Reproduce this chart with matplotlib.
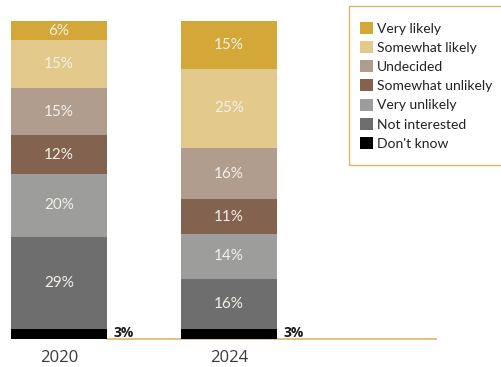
import matplotlib.pyplot as plt
from matplotlib.patches import Patch, Rectangle

years = ["2020", "2024"]
categories = [
    "Don/t know",
    "Not interested",
    "Very unlikely",
    "Somewhat unlikely",
    "Undecided",
    "Somewhat likely",
    "Very likely",
]
shares_2020 = [3, 29, 20, 12, 15, 15, 6]
shares_2024 = [3, 16, 14, 11, 16, 25, 15]
colors = ["#000000", "#6e6e6e", "#9d9d9b", "#83634f", "#b19d8d", "#e3c98b", "#d3a838"]

W, H = 502, 367
fig = plt.figure(figsize=(W / 100, H / 100), dpi=100)
ax = fig.add_axes([0, 0, 1, 1])

# pixel layout: bar centres at x=59 and x=229, 0% at y=339, 100% at y=21
px_per_cat = 170.0
ax.set_xlim(-59 / px_per_cat, (W - 59) / px_per_cat)
px_per_pct = 3.18
ax.set_ylim(-(H - 339) / px_per_pct, 100 + 21 / px_per_pct)
ax.axis("off")

xs = [0, 1]
width = 96 / px_per_cat
series = [shares_2020, shares_2024]

ax.plot([(106 - 59) / px_per_cat, (437 - 59) / px_per_cat], [0, 0],
        color="#d8b86e", lw=1.2, zorder=1, solid_capstyle="butt")

for x, vals in zip(xs, series):
    bottom = 0
    for i, v in enumerate(vals):
        ax.bar(x, v, width=width, bottom=bottom, color=colors[i], zorder=2, linewidth=0)
        mid = bottom + v / 2
        if i == 0:
            ax.text(x + width / 2 + 7 / px_per_cat, mid + 0.4, f"{v}%", ha="left", va="center",
                    fontsize=10, fontweight="bold", color="#1a1a1a", family="Open Sans")
        else:
            ax.text(x, mid, f"{v}%", ha="center", va="center", fontsize=11,
                    color="#f4f0ea", family="Lato")
        bottom += v

for x, yr in zip(xs, years):
    ax.text(x, -18.5 / px_per_pct, yr, ha="center", va="center", fontsize=12,
            color="#3a3a3a", family="Open Sans")

# legend box runs off the right edge, so the frame is drawn on its own
fig.patches.append(Rectangle((349 / W, 1 - 165 / H), 170 / W, 159 / H,
                             transform=fig.transFigure, facecolor="white",
                             edgecolor="#d8b86e", linewidth=1.0, zorder=0))

handles = [Patch(facecolor=c, edgecolor="none") for c in colors[::-1]]
labels = [c.replace("Don/t", "Don't") for c in categories[::-1]]
leg = fig.legend(handles, labels, loc="upper left", bbox_to_anchor=(360 / W, 1 - 22 / H),
                 frameon=False, prop={"family": "Lato", "size": 10},
                 handlelength=0.95, handleheight=0.95, handletextpad=0.3,
                 labelspacing=0.46, borderpad=0, borderaxespad=0)
for t in leg.get_texts():
    t.set_color("#222222")

fig.savefig("out.png", dpi=100)
